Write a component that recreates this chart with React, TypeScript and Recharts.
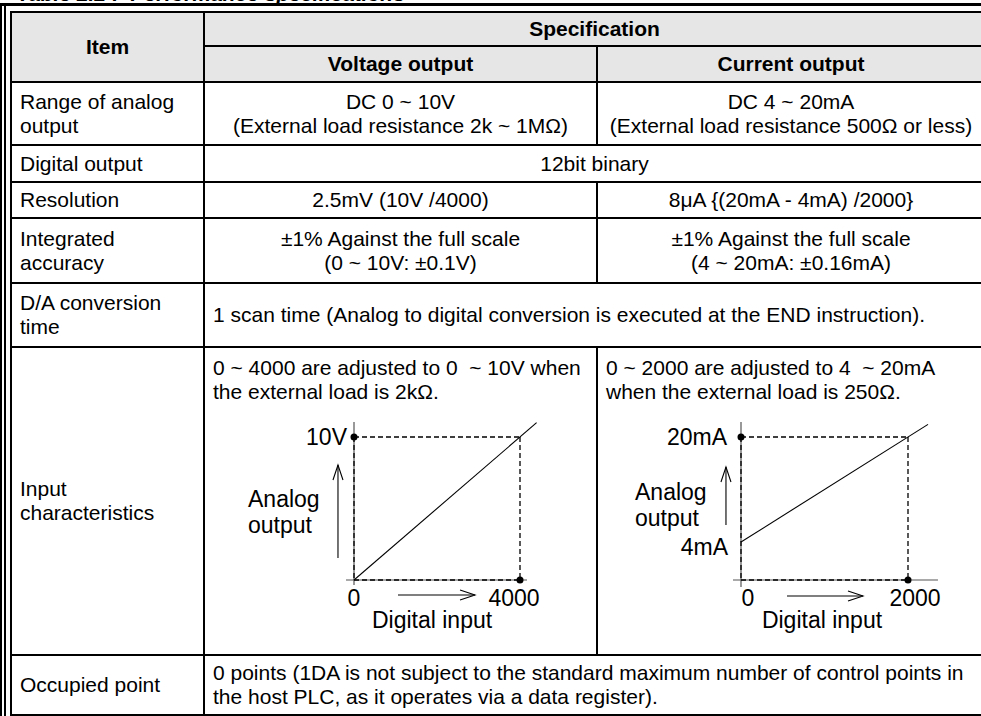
import React from 'react';
import { LineChart, Line, XAxis, YAxis, ReferenceLine, ReferenceDot } from 'recharts';

// ---- data ----
// voltage output: digital input -> analog output (V)
const voltageInput = [0, 4400];
const voltageOutput = [0, 11];
const voltageFullScale = [4000, 10];
const voltageTickLabels = ['0', '4000'];
const voltageLevelLabels = ['10V'];

// current output: digital input -> analog output (mA)
const currentInput = [0, 2240];
const currentOutput = [4, 21.92];
const currentFullScale = [2000, 20];
const currentTickLabels = ['0', '2000'];
const currentLevelLabels = ['4mA', '20mA'];

const FONT = '"Liberation Sans", Arial, Helvetica, sans-serif';
const INK = '#000';

// table grid (line centres)
const COLS = [11, 204, 597, 985];
const ROWS = [12, 46, 82, 145, 182, 218, 283, 347, 655, 715];

const voltageSpec = {
  left: 206, top: 400, width: 389, height: 253,
  axisX: 148, zeroY: 180, pxPerX: 166 / 4000, pxPerY: 143 / 10,
  input: voltageInput, output: voltageOutput, full: voltageFullScale, base: 0,
  ticks: [
    { value: 0, label: voltageTickLabels[0], dx: 0 },
    { value: voltageFullScale[0], label: voltageTickLabels[1], dx: -6 },
  ],
  levels: [{ value: voltageFullScale[1], label: voltageLevelLabels[0], dx: -7, dy: 0 }],
  xSpan: [-193, 4169], ySpan: [-0.35, 11.05],
  upArrow: { x: -386, from: 1.54, to: 8.04 },
  rightArrow: { y: -1.05, from: 1060, to: 2916 },
  analog: { x: -2554, y: [5.66, 3.85] },
  digital: { x: 1880, y: -2.8 },
};

const currentSpec = {
  left: 599, top: 400, width: 382, height: 253,
  axisX: 142, zeroY: 168.25, pxPerX: 167 / 2000, pxPerY: 105 / 16,
  input: currentInput, output: currentOutput, full: currentFullScale, base: -1.79,
  ticks: [
    { value: 0, label: currentTickLabels[0], dx: 7 },
    { value: currentFullScale[0], label: currentTickLabels[1], dx: 7 },
  ],
  levels: [
    { value: 4, label: currentLevelLabels[0], dx: -13, dy: 5 },
    { value: currentFullScale[1], label: currentLevelLabels[1], dx: -14, dy: 0 },
  ],
  xSpan: [-96, 2359], ySpan: [-2.86, 22.29],
  upArrow: { x: -180, from: 6.59, to: 15.43 },
  rightArrow: { y: -4.23, from: 551, to: 1461 },
  analog: { x: -1269, y: [11.6, 7.66] },
  digital: { x: 970, y: -7.89 },
};

const textMark =
  (text: string, anchor: 'start' | 'middle' | 'end', dx = 0, dy = 0) =>
  (p: any) => (
    <text
      x={p.cx + dx}
      y={p.cy + dy}
      textAnchor={anchor}
      dominantBaseline="central"
      fontFamily={FONT}
      fontSize={23}
      fill={INK}
    >
      {text}
    </text>
  );

function Arrow(props: any) {
  const { x1, y1, x2, y2 } = props;
  const dx = x2 - x1;
  const dy = y2 - y1;
  const len = Math.hypot(dx, dy) || 1;
  const ux = dx / len;
  const uy = dy / len;
  const bx = x2 - ux * 15;
  const by = y2 - uy * 15;
  const px = -uy * 5;
  const py = ux * 5;
  return (
    <g>
      <line x1={x1} y1={y1} x2={x2} y2={y2} stroke={INK} strokeWidth={1.1} />
      <polyline
        points={`${bx + px},${by + py} ${x2},${y2} ${bx - px},${by - py}`}
        fill="none"
        stroke={INK}
        strokeWidth={1.1}
      />
    </g>
  );
}

function DiagramChart({ spec }: { spec: any }) {
  const { left, top, width, height, axisX, zeroY, pxPerX, pxPerY } = spec;
  const xDomain = [-axisX / pxPerX, (width - axisX) / pxPerX];
  const yDomain = [-(height - zeroY) / pxPerY, zeroY / pxPerY];
  const data = spec.input.map((v: number, i: number) => ({ input: v, output: spec.output[i] }));
  const [fx, fy] = spec.full;
  const b = spec.base;
  const dash = { stroke: INK, strokeWidth: 1.3, strokeDasharray: '5 3', ifOverflow: 'visible' as const };
  const axis = { stroke: '#555', strokeWidth: 1.2, ifOverflow: 'visible' as const };

  return (
    <div style={{ position: 'absolute', left, top }}>
      <LineChart width={width} height={height} data={data} margin={{ top: 0, right: 0, bottom: 0, left: 0 }}>
        <XAxis type="number" dataKey="input" domain={xDomain} allowDataOverflow hide />
        <YAxis type="number" domain={yDomain} allowDataOverflow hide />

        {/* axes */}
        <ReferenceLine segment={[{ x: spec.xSpan[0], y: b }, { x: spec.xSpan[1], y: b }]} {...axis} />
        <ReferenceLine segment={[{ x: 0, y: spec.ySpan[0] }, { x: 0, y: spec.ySpan[1] }]} {...axis} />

        {/* full scale guides */}
        <ReferenceLine segment={[{ x: 0, y: fy }, { x: fx, y: fy }]} {...dash} />
        <ReferenceLine segment={[{ x: fx, y: fy }, { x: fx, y: b }]} {...dash} />
        <ReferenceLine segment={[{ x: 0, y: fy }, { x: 0, y: b }]} {...dash} />
        <ReferenceLine segment={[{ x: 0, y: b }, { x: fx, y: b }]} {...dash} />

        <Line
          type="linear"
          dataKey="output"
          stroke={INK}
          strokeWidth={1.1}
          dot={false}
          activeDot={false}
          isAnimationActive={false}
        />

        <ReferenceDot x={0} y={fy} r={3.5} fill={INK} stroke="none" ifOverflow="visible" />
        <ReferenceDot x={fx} y={b} r={3.5} fill={INK} stroke="none" ifOverflow="visible" />

        {/* arrows */}
        <ReferenceLine
          segment={[{ x: spec.upArrow.x, y: spec.upArrow.from }, { x: spec.upArrow.x, y: spec.upArrow.to }]}
          shape={Arrow}
          ifOverflow="visible"
        />
        <ReferenceLine
          segment={[{ x: spec.rightArrow.from, y: spec.rightArrow.y }, { x: spec.rightArrow.to, y: spec.rightArrow.y }]}
          shape={Arrow}
          ifOverflow="visible"
        />

        {/* labels */}
        {spec.levels.map((l: any) => (
          <ReferenceDot key={l.label} x={0} y={l.value} r={0} shape={textMark(l.label, 'end', l.dx, l.dy)} />
        ))}
        {spec.ticks.map((t: any) => (
          <ReferenceDot key={t.label} x={t.value} y={b} r={0} shape={textMark(t.label, 'middle', t.dx, 18)} />
        ))}
        <ReferenceDot x={spec.analog.x} y={spec.analog.y[0]} r={0} shape={textMark('Analog', 'start')} />
        <ReferenceDot x={spec.analog.x} y={spec.analog.y[1]} r={0} shape={textMark('output', 'start')} />
        <ReferenceDot x={spec.digital.x} y={spec.digital.y} r={0} shape={textMark('Digital input', 'middle')} />
      </LineChart>
    </div>
  );
}

function Cell({
  x1, x2, y1, y2, lines, align = 'left', bold = false, bg, top = false, padTop = 0,
}: {
  x1: number; x2: number; y1: number; y2: number; lines: string[];
  align?: 'left' | 'center'; bold?: boolean; bg?: string; top?: boolean; padTop?: number;
}) {
  return (
    <div
      style={{
        position: 'absolute',
        left: x1 + 1,
        top: y1 + 1,
        width: x2 - x1 - 2,
        height: y2 - y1 - 2,
        background: bg,
        boxSizing: 'border-box',
        display: 'flex',
        flexDirection: 'column',
        justifyContent: top ? 'flex-start' : 'center',
        alignItems: align === 'center' ? 'center' : 'flex-start',
        paddingLeft: align === 'left' ? 8 : 0,
        paddingTop: padTop,
        fontWeight: bold ? 700 : 400,
        whiteSpace: 'pre',
        lineHeight: '24px',
      }}
    >
      {lines.map((t, i) => (
        <div key={i}>{t}</div>
      ))}
    </div>
  );
}

const hLine = (y: number, x1: number, x2: number, h = 2) => (
  <div key={`h${y}-${x1}`} style={{ position: 'absolute', left: x1 - 1, top: y - h / 2, width: x2 - x1 + 2, height: h, background: INK }} />
);
const vLine = (x: number, y1: number, y2: number, w = 2) => (
  <div key={`v${x}-${y1}`} style={{ position: 'absolute', left: x - w / 2, top: y1 - 1, width: w, height: y2 - y1 + 2, background: INK }} />
);

export default function App() {
  const [c0, c1, c2, c3] = COLS;
  const [r0, r1, r2, r3, r4, r5, r6, r7, r8, r9] = ROWS;
  const HEAD = '#e6e6e6';

  return (
    <div
      style={{
        position: 'absolute',
        left: 0,
        top: 0,
        width: 981,
        height: 716,
        overflow: 'hidden',
        background: '#fff',
        fontFamily: FONT,
        fontSize: 21,
        color: INK,
      }}
    >
      {/* caption above the table, cropped by the page edge */}
      <div style={{ position: 'absolute', left: 0, top: 0, width: 981, height: 3, overflow: 'hidden' }}>
        <span style={{ position: 'absolute', left: 17, top: -17, lineHeight: '21px', fontWeight: 700, fontStyle: 'italic', whiteSpace: 'pre' }}>
          Table 2.2 :  Performance specifications
        </span>
      </div>
      <div style={{ position: 'absolute', left: 0, top: 3, width: 981, height: 3, background: INK }} />
      <div style={{ position: 'absolute', left: 0, top: 4, width: 2, height: 712, background: INK }} />
      <div style={{ position: 'absolute', left: 4, top: 4, width: 2, height: 712, background: INK }} />

      {/* header */}
      <Cell x1={c0} x2={c1} y1={r0} y2={r2} lines={['Item']} align="center" bold bg={HEAD} />
      <Cell x1={c1} x2={c3} y1={r0} y2={r1} lines={['Specification']} align="center" bold bg={HEAD} />
      <Cell x1={c1} x2={c2} y1={r1} y2={r2} lines={['Voltage output']} align="center" bold bg={HEAD} />
      <Cell x1={c2} x2={c3} y1={r1} y2={r2} lines={['Current output']} align="center" bold bg={HEAD} />

      {/* body */}
      <Cell x1={c0} x2={c1} y1={r2} y2={r3} lines={['Range of analog', 'output']} />
      <Cell x1={c1} x2={c2} y1={r2} y2={r3} lines={['DC 0 ~ 10V', '(External load resistance 2k ~ 1MΩ)']} align="center" />
      <Cell x1={c2} x2={c3} y1={r2} y2={r3} lines={['DC 4 ~ 20mA', '(External load resistance 500Ω or less)']} align="center" />

      <Cell x1={c0} x2={c1} y1={r3} y2={r4} lines={['Digital output']} />
      <Cell x1={c1} x2={c3} y1={r3} y2={r4} lines={['12bit binary']} align="center" />

      <Cell x1={c0} x2={c1} y1={r4} y2={r5} lines={['Resolution']} />
      <Cell x1={c1} x2={c2} y1={r4} y2={r5} lines={['2.5mV (10V /4000)']} align="center" />
      <Cell x1={c2} x2={c3} y1={r4} y2={r5} lines={['8μA {(20mA - 4mA) /2000}']} align="center" />

      <Cell x1={c0} x2={c1} y1={r5} y2={r6} lines={['Integrated', 'accuracy']} />
      <Cell x1={c1} x2={c2} y1={r5} y2={r6} lines={['±1% Against the full scale', '(0 ~ 10V: ±0.1V)']} align="center" />
      <Cell x1={c2} x2={c3} y1={r5} y2={r6} lines={['±1% Against the full scale', '(4 ~ 20mA: ±0.16mA)']} align="center" />

      <Cell x1={c0} x2={c1} y1={r6} y2={r7} lines={['D/A conversion', 'time']} />
      <Cell
        x1={c1} x2={c3} y1={r6} y2={r7}
        lines={['1 scan time (Analog to digital conversion is executed at the END instruction).']}
      />

      <Cell x1={c0} x2={c1} y1={r7} y2={r8} lines={['Input', 'characteristics']} />
      <Cell
        x1={c1} x2={c2} y1={r7} y2={r8} top padTop={8}
        lines={['0 ~ 4000 are adjusted to 0  ~ 10V when', 'the external load is 2kΩ.']}
      />
      <Cell
        x1={c2} x2={c3} y1={r7} y2={r8} top padTop={8}
        lines={['0 ~ 2000 are adjusted to 4  ~ 20mA', 'when the external load is 250Ω.']}
      />

      <Cell x1={c0} x2={c1} y1={r8} y2={r9} lines={['Occupied point']} />
      <Cell
        x1={c1} x2={c3} y1={r8} y2={r9}
        lines={[
          '0 points (1DA is not subject to the standard maximum number of control points in',
          'the host PLC, as it operates via a data register).',
        ]}
      />

      <DiagramChart spec={voltageSpec} />
      <DiagramChart spec={currentSpec} />

      {/* grid lines */}
      {[r0, r2, r3, r4, r5, r6, r7, r8, r9].map((y) => hLine(y, c0, c3))}
      {hLine(r1, c1, c3)}
      {vLine(c0, r0, r9)}
      {vLine(c1, r0, r9)}
      {vLine(c2, r1, r3)}
      {vLine(c2, r4, r6)}
      {vLine(c2, r7, r8)}
    </div>
  );
}
